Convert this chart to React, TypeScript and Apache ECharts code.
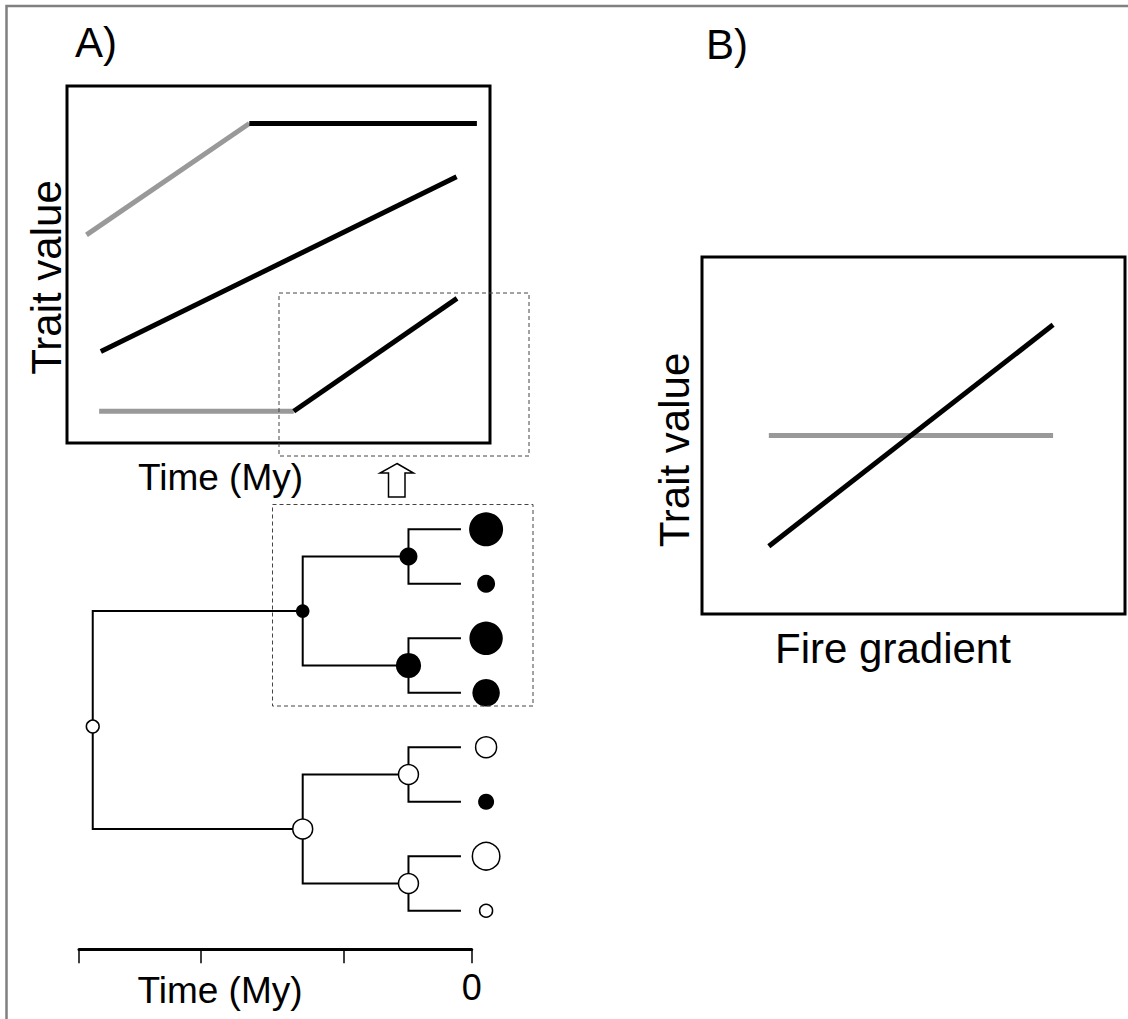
import React, { useEffect, useRef } from "react";
import * as echarts from "echarts";

// ---------- Panel A: trait value through time (three lineages) ----------
// [time, trait] pairs on a 0–10 schematic scale
const lineage1Ancestral = [[0.46, 5.83], [4.31, 8.95]];
const lineage1Derived = [[4.31, 8.95], [9.69, 8.95]];
const lineage2Derived = [[0.8, 2.56], [9.21, 7.46]];
const lineage3Ancestral = [[0.76, 0.89], [5.36, 0.89]];
const lineage3Derived = [[5.36, 0.89], [9.22, 4.05]];

// ---------- Panel B: trait value along a fire gradient ----------
const fireGradient = [1.58, 8.3];
const traitNonFireClade = [5.0, 5.0];
const traitFireClade = [1.9, 8.1];

// ---------- Phylogeny (tips 0-7, internal nodes 8-14) ----------
const nodeTime = [
  -0.82, -0.82, -0.82, -0.82, -0.82, -0.82, -0.82, -0.82,
  -28.95, -12.91, -12.91, -4.83, -4.83, -4.83, -4.83,
];
const nodeY = [1, 2, 3, 4, 5, 6, 7, 8, 4.62, 2.5, 6.5, 1.5, 3.5, 5.5, 7.5];
const nodeTraitSize = [34, 18, 33.4, 27.5, 22.5, 16, 29, 14.5, 14.3, 13.6, 21.4, 18, 25.2, 21.4, 21.4];
const nodeFireState = [1, 1, 1, 1, 0, 1, 0, 0, 0, 1, 0, 1, 1, 0, 0];
const treeEdges = [
  [8, 9], [8, 10], [9, 11], [9, 12], [10, 13], [10, 14],
  [11, 0], [11, 1], [12, 2], [12, 3], [13, 4], [13, 5], [14, 6], [14, 7],
];
const timeTicks = [-30, -20.7, -9.78, 0];
const timeTickLabels = [0];
const tipLabelTime = 1.1;

const FONT = "'Liberation Sans', Arial, Helvetica, sans-serif";
const GRAY = "#999999";

function seg(data: number[][], color: string, axis: number) {
  return {
    type: "line",
    xAxisIndex: axis,
    yAxisIndex: axis,
    data,
    showSymbol: false,
    symbol: "none",
    lineStyle: { color, width: 5, cap: "butt" },
    silent: true,
    z: 3,
  };
}

function label(text: string, x: number, baseline: number, size: number, align = "left", rotate = false) {
  const off = 0.3465 * size;
  return {
    type: "text",
    x: rotate ? baseline - off : x,
    y: rotate ? x : baseline - off,
    rotation: rotate ? Math.PI / 2 : 0,
    style: {
      text,
      fontSize: size,
      fontFamily: FONT,
      fill: "#000",
      align,
      verticalAlign: "middle",
    },
    silent: true,
  };
}

export default function App() {
  const ref = useRef<HTMLDivElement>(null);

  useEffect(() => {
    const chart = echarts.init(ref.current!, null, { renderer: "svg" });

    const hidden = { show: false };
    const box = { show: true, borderColor: "#000", borderWidth: 3, backgroundColor: "transparent" };

    const option: any = {
      animation: false,
      backgroundColor: "#fff",
      grid: [
        { left: 67, top: 86, width: 423, height: 357, ...box },
        { left: 702, top: 257, width: 423, height: 357, ...box },
        { left: 79, top: 502.06, width: 392.7, height: 435.9, show: false },
      ],
      xAxis: [
        { gridIndex: 0, type: "value", min: 0, max: 10, ...hidden },
        { gridIndex: 1, type: "value", min: 0, max: 10, ...hidden },
        {
          gridIndex: 2,
          type: "value",
          min: -30,
          max: 0,
          position: "bottom",
          offset: 11.3,
          axisLine: { show: true, onZero: false, lineStyle: { color: "#000", width: 3 } },
          axisTick: {
            show: true,
            customValues: timeTicks,
            length: 14,
            lineStyle: { color: "#000", width: 1.5 },
          },
          axisLabel: {
            show: true,
            customValues: timeTickLabels,
            margin: 20,
            fontSize: 36,
            fontFamily: FONT,
            color: "#000",
          },
          splitLine: { show: false },
        },
      ],
      yAxis: [
        { gridIndex: 0, type: "value", min: 0, max: 10, ...hidden },
        { gridIndex: 1, type: "value", min: 0, max: 10, ...hidden },
        { gridIndex: 2, type: "value", min: 0.5, max: 8.5, inverse: true, ...hidden },
      ],
      series: [
        seg(lineage1Ancestral, GRAY, 0),
        seg(lineage1Derived, "#000", 0),
        seg(lineage2Derived, "#000", 0),
        seg(lineage3Ancestral, GRAY, 0),
        seg(lineage3Derived, "#000", 0),
        seg(fireGradient.map((x, i) => [x, traitNonFireClade[i]]), GRAY, 1),
        seg(fireGradient.map((x, i) => [x, traitFireClade[i]]), "#000", 1),
        {
          type: "custom",
          xAxisIndex: 2,
          yAxisIndex: 2,
          silent: true,
          z: 2,
          data: treeEdges.map(([p, c]) => [nodeTime[p], nodeY[p], nodeTime[c], nodeY[c]]),
          encode: { x: [0, 2], y: [1, 3] },
          renderItem: (_params: any, api: any) => {
            const p = api.coord([api.value(0), api.value(1)]);
            const c = api.coord([api.value(2), api.value(3)]);
            return {
              type: "polyline",
              shape: { points: [p, [p[0], c[1]], c] },
              style: { stroke: "#000", lineWidth: 2, fill: null, lineJoin: "miter" },
            };
          },
        },
        {
          type: "scatter",
          xAxisIndex: 2,
          yAxisIndex: 2,
          clip: false,
          silent: true,
          z: 4,
          symbol: "circle",
          data: nodeTime.map((t, i) => {
            const filled = nodeFireState[i] === 1;
            return {
              value: [i < 8 ? tipLabelTime : t, nodeY[i]],
              symbolSize: filled ? nodeTraitSize[i] : nodeTraitSize[i] - 1.5,
              itemStyle: filled
                ? { color: "#000", borderWidth: 0, opacity: 1 }
                : { color: "#fff", borderColor: "#000", borderWidth: 1.5, opacity: 1 },
            };
          }),
        },
      ],
      graphic: [
        {
          type: "rect",
          shape: { x: 6.5, y: 6, width: 1200, height: 1100 },
          style: { fill: null, stroke: "#808080", lineWidth: 2.5 },
          silent: true,
          z: 0,
        },
        {
          type: "rect",
          shape: { x: 279, y: 293, width: 250, height: 163 },
          style: { fill: null, stroke: "#444", lineWidth: 1, lineDash: [4, 3] },
          silent: true,
          z: 10,
        },
        {
          type: "rect",
          shape: { x: 272.5, y: 504.5, width: 260.5, height: 201.5 },
          style: { fill: null, stroke: "#444", lineWidth: 1, lineDash: [4, 3] },
          silent: true,
          z: 10,
        },
        {
          type: "polygon",
          shape: {
            points: [
              [397, 463.5], [413.5, 473], [405, 473], [405, 497],
              [388.5, 497], [388.5, 473], [380, 473],
            ],
          },
          style: { fill: "#fff", stroke: "#000", lineWidth: 1.5 },
          silent: true,
          z: 10,
        },
        label("A)", 75, 57, 42),
        label("B)", 706, 59, 42),
        label("Trait value", 277.5, 61, 42, "center", true),
        label("Trait value", 450, 688.6, 42, "center", true),
        label("Time (My)", 220.5, 490, 37, "center"),
        label("Fire gradient", 893, 663, 42, "center"),
        label("Time (My)", 220, 1003, 37, "center"),
      ],
    };

    chart.setOption(option);
    return () => chart.dispose();
  }, []);

  return (
    <div
      ref={ref}
      style={{ position: "absolute", left: 0, top: 0, width: 1128, height: 1019 }}
    />
  );
}
